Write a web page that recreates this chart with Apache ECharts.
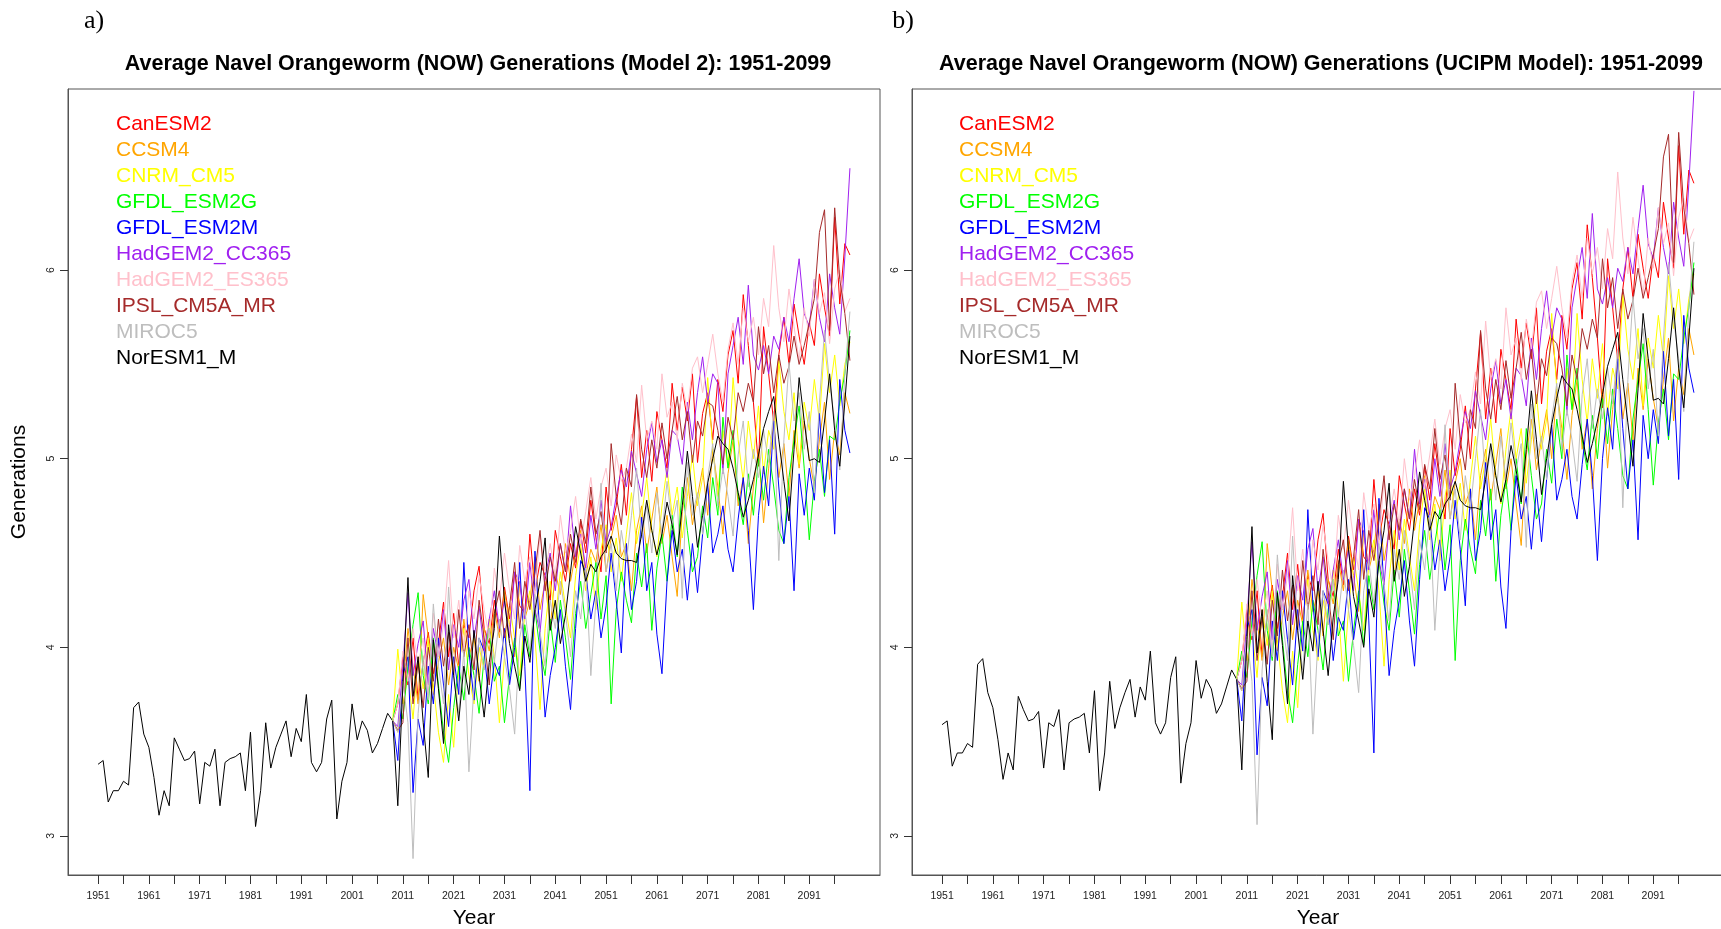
<!DOCTYPE html>
<html><head><meta charset="utf-8">
<script src="https://cdn.jsdelivr.net/npm/echarts@6/dist/echarts.min.js"></script>
<style>html,body{margin:0;padding:0;background:#fff}#c{width:1721px;height:929px}</style>
</head><body><div id="c"></div>
<script>
const modelNames = ['CanESM2','CCSM4','CNRM_CM5','GFDL_ESM2G','GFDL_ESM2M','HadGEM2_CC365','HadGEM2_ES365','IPSL_CM5A_MR','MIROC5','NorESM1_M'];
const modelColors = ['#FF0000','#FFA500','#FFFF00','#00FF00','#0000FF','#A020F0','#FFC0CB','#A52A2A','#BEBEBE','#000000'];
const histStartYear = 1951;
const projStartYear = 2010;
const xTickYears = [1951,1956,1961,1966,1971,1976,1981,1986,1991,1996,2001,2006,2011,2016,2021,2026,2031,2036,2041,2046,2051,2056,2061,2066,2071,2076,2081,2086,2091,2096];
const xLabelYears = [1951,1961,1971,1981,1991,2001,2011,2021,2031,2041,2051,2061,2071,2081,2091];
const yTicks = [3,4,5,6];

// Panel a (Model 2) historical 1951-2009
const histA = [3.38,3.40,3.18,3.24,3.24,3.29,3.27,3.68,3.71,3.54,
3.47,3.31,3.11,3.24,3.16,3.52,3.46,3.40,3.41,3.45,
3.17,3.39,3.37,3.46,3.16,3.39,3.41,3.42,3.44,3.24,
3.55,3.05,3.24,3.60,3.36,3.47,3.54,3.61,3.42,3.57,
3.50,3.75,3.39,3.34,3.39,3.62,3.72,3.09,3.29,3.39,
3.70,3.51,3.61,3.56,3.44,3.49,3.57,3.65,3.61];
// Panel b (UCIPM) historical 1951-2009
const histB = [3.59,3.61,3.37,3.44,3.44,3.49,3.47,3.91,3.94,3.76,
3.68,3.51,3.30,3.44,3.35,3.74,3.67,3.61,3.62,3.66,
3.36,3.60,3.58,3.67,3.35,3.60,3.62,3.63,3.65,3.44,
3.77,3.24,3.44,3.82,3.57,3.68,3.76,3.83,3.63,3.79,
3.72,3.98,3.60,3.54,3.60,3.84,3.95,3.28,3.49,3.60,
3.93,3.73,3.83,3.78,3.65,3.70,3.79,3.88,3.83];

// Panel a projections 2010-2099
const A_CanESM2 = [3.70,3.95,3.80,4.05,3.72,3.92,4.08,3.86,4.02,4.24,
3.95,4.18,3.90,4.12,4.05,4.30,4.43,4.10,4.02,4.25,
4.08,4.32,4.15,4.40,4.22,4.18,4.60,4.30,4.45,4.38,
4.25,4.62,4.48,4.35,4.55,4.42,4.67,4.50,4.78,4.58,
4.40,4.85,4.62,4.75,4.97,4.70,5.05,5.33,4.90,5.15,
4.88,5.25,5.10,4.95,5.40,5.15,5.38,5.20,5.45,4.98,
5.24,5.35,5.10,5.42,5.25,5.55,5.68,5.40,5.87,5.60,
5.30,4.96,5.70,5.45,5.19,5.55,5.75,5.50,5.82,5.65,
5.50,5.72,5.60,5.98,5.80,5.65,6.28,5.82,6.14,6.08];
const A_CCSM4 = [3.55,3.78,4.10,3.90,3.70,4.28,4.05,3.75,3.92,4.05,
3.80,4.00,3.88,4.15,3.95,4.05,3.82,4.10,3.98,4.20,
4.05,4.30,4.12,3.95,4.35,4.15,4.25,4.48,4.20,4.35,
4.10,4.40,4.28,4.55,4.35,4.50,4.62,4.38,4.52,4.45,
4.65,4.40,4.58,4.70,4.48,4.55,4.30,4.62,4.75,4.50,
4.68,4.85,4.55,4.70,4.48,4.27,4.72,4.90,4.65,4.80,
4.95,4.70,5.05,4.85,4.60,4.92,5.10,4.75,4.90,4.55,
4.85,5.05,4.66,4.95,5.20,4.90,5.08,4.80,5.15,4.95,
5.20,5.00,4.85,5.10,5.30,4.89,5.15,5.02,5.35,5.24];
const A_CNRM_CM5 = [3.99,3.70,3.85,3.62,3.95,3.78,4.05,3.80,3.55,3.39,
3.75,3.47,3.90,4.10,3.85,3.70,4.00,3.88,4.15,3.95,
3.60,3.95,4.22,4.05,3.85,4.18,4.30,4.05,3.67,4.10,
4.35,4.15,4.40,4.22,4.05,4.38,4.55,4.30,4.48,4.20,
4.52,4.65,4.40,4.58,4.35,4.60,4.82,4.55,4.70,4.90,
4.62,4.48,4.75,4.95,4.70,4.85,4.58,4.80,5.02,4.75,
4.90,5.43,5.05,4.80,5.15,4.95,5.43,5.10,4.88,5.20,
5.00,5.28,4.92,5.15,5.05,5.52,5.25,5.10,5.35,4.97,
5.30,5.15,5.42,5.20,5.61,5.35,5.55,5.28,5.50,5.62];
const A_GFDL_ESM2G = [3.75,3.62,3.90,4.12,4.29,3.85,3.70,4.05,3.80,3.55,
3.39,3.68,3.90,3.72,4.00,3.85,3.65,3.95,4.10,3.82,
3.90,3.60,3.85,4.05,3.78,4.12,3.95,4.20,3.98,3.85,
4.15,3.92,4.25,4.05,3.83,4.18,4.35,4.10,4.28,4.45,
4.15,4.38,3.70,4.20,4.40,4.25,4.13,4.50,4.32,4.55,
4.09,4.42,4.60,4.35,4.70,4.48,4.85,4.62,4.40,4.48,
4.75,4.58,4.90,4.70,5.22,4.95,5.15,4.80,4.65,4.92,
4.70,5.00,4.78,5.05,4.85,4.62,4.55,4.90,5.10,5.28,
4.95,4.57,4.88,5.05,4.80,5.12,5.10,5.30,5.45,5.68];
const A_GFDL_ESM2M = [3.40,3.85,3.95,3.23,3.62,3.48,3.90,3.70,4.05,3.80,
3.58,3.95,3.75,4.45,3.98,3.72,4.05,3.98,3.70,3.92,
3.85,4.10,3.80,4.00,4.45,3.90,3.24,4.51,4.05,3.63,
3.85,4.00,4.20,3.90,3.67,4.10,4.46,4.40,4.15,4.30,
4.05,4.22,4.50,4.25,3.97,4.55,4.20,4.35,4.69,4.30,
4.45,4.07,3.86,4.35,4.62,4.40,4.52,4.25,4.55,4.29,
4.60,4.87,4.50,4.60,4.75,4.52,4.40,4.68,4.90,4.62,
4.20,4.70,4.96,4.75,5.20,4.85,4.55,4.80,4.30,4.92,
4.70,4.95,4.78,5.24,4.82,5.10,4.60,5.42,5.15,5.03];
const A_HadGEM2_CC365 = [3.58,3.90,4.29,3.85,4.02,4.14,3.80,4.10,3.95,4.20,
3.88,4.12,4.00,4.25,4.36,4.05,4.22,3.98,4.15,4.30,
4.10,4.25,4.05,4.40,4.34,4.15,4.45,4.20,4.08,4.38,
4.50,4.30,4.55,4.40,4.75,4.48,4.60,4.42,4.70,4.52,
4.78,4.55,4.64,4.80,4.94,4.85,5.04,4.92,4.80,5.05,
5.19,4.98,5.10,4.90,5.15,5.12,4.97,5.30,5.10,5.35,
5.54,5.30,5.45,5.40,4.92,5.45,5.60,5.75,5.50,5.92,
5.55,5.47,5.60,5.45,5.65,5.58,5.75,5.62,5.85,6.06,
5.77,5.70,5.95,5.75,5.62,5.98,5.80,5.66,6.07,6.54];
const A_HadGEM2_ES365 = [3.70,3.98,3.82,4.10,3.90,4.05,3.75,4.18,3.95,4.12,
4.46,4.05,4.25,4.00,4.30,4.15,4.38,4.20,4.05,4.42,
4.25,4.50,4.30,4.15,4.54,4.35,4.48,4.28,4.60,4.40,
4.55,4.38,4.70,4.50,4.62,4.80,4.55,4.72,4.90,4.68,
4.85,4.95,4.75,5.02,4.88,4.95,5.13,4.98,5.39,5.10,
5.20,5.05,5.45,5.22,5.30,5.10,5.40,5.25,5.48,5.54,
5.35,5.50,5.66,5.45,5.30,5.58,5.72,5.50,5.80,5.62,
5.75,5.55,5.85,5.70,6.13,5.80,5.62,5.90,5.70,5.52,
5.80,5.65,5.95,5.77,5.88,5.61,5.90,6.00,5.78,5.85];
const A_IPSL_CM5A_MR = [3.56,3.60,4.05,3.70,3.92,3.68,4.00,3.82,4.15,3.90,
4.08,3.85,4.20,3.95,4.12,3.88,4.25,4.05,3.80,4.18,
4.30,4.05,4.22,4.45,4.10,4.35,4.20,4.40,4.62,4.30,
4.48,4.35,4.55,4.40,4.60,4.45,4.68,4.55,4.85,4.60,
4.72,4.50,5.08,4.80,4.65,4.95,4.85,5.34,5.05,4.90,
5.10,4.95,5.19,5.00,5.15,5.33,5.10,5.25,4.98,5.20,
5.12,5.30,5.28,5.15,4.97,5.22,5.10,5.35,5.25,5.40,
5.30,5.70,5.45,5.60,5.35,5.55,5.40,5.49,5.65,5.50,
5.60,5.72,5.85,6.20,6.32,5.68,6.33,5.95,5.77,5.52];
const A_MIROC5 = [3.55,3.82,3.60,2.88,3.65,3.95,3.72,4.23,3.90,3.70,
4.32,3.85,3.65,3.98,3.34,3.80,4.05,3.88,4.10,3.92,
4.15,3.95,3.78,3.54,4.05,4.20,3.98,4.28,4.08,3.90,
4.25,4.10,4.35,4.18,3.95,4.30,4.15,4.42,3.85,4.25,
4.87,4.40,4.55,4.30,4.62,4.45,4.70,4.95,4.58,4.75,
4.50,4.82,4.60,4.88,4.65,4.78,4.26,4.98,4.70,4.82,
4.60,4.90,5.08,4.75,4.95,4.80,4.59,5.02,5.20,4.85,
5.05,4.90,5.15,4.98,5.25,4.46,5.10,5.51,5.20,5.35,
5.05,5.25,4.82,5.30,5.68,5.40,5.20,4.94,5.45,5.78];
const A_NorESM1_M = [3.16,3.80,4.37,3.74,3.95,3.60,3.31,4.04,3.78,3.49,
4.12,3.85,3.61,3.90,3.75,4.09,3.85,3.63,3.92,4.10,
4.59,4.25,4.02,3.90,3.77,4.06,3.92,4.20,4.35,4.58,
4.09,4.25,4.02,4.17,4.40,4.64,4.50,4.35,4.44,4.40,
4.48,4.52,4.59,4.50,4.47,4.46,4.46,4.45,4.60,4.78,
4.62,4.49,4.60,4.77,4.65,4.49,4.75,5.04,4.80,4.53,
4.70,4.87,5.00,5.12,5.08,5.05,4.95,4.82,4.69,4.78,
4.89,5.02,5.16,5.25,5.33,5.10,4.88,4.67,5.05,5.43,
5.20,4.99,5.00,4.98,5.20,5.45,5.15,4.96,5.30,5.65];

// Panel b projections 2010-2099
const B_CanESM2 = [3.93,4.20,4.04,4.30,3.95,4.16,4.33,4.10,4.27,4.50,
4.20,4.44,4.14,4.38,4.30,4.57,4.71,4.36,4.27,4.52,
4.33,4.59,4.41,4.68,4.48,4.44,4.89,4.57,4.73,4.65,
4.52,4.91,4.76,4.62,4.84,4.70,4.96,4.78,5.08,4.87,
4.68,5.16,4.91,5.05,5.28,5.00,5.37,5.67,5.21,5.48,
5.19,5.58,5.42,5.26,5.74,5.48,5.72,5.53,5.80,5.29,
5.57,5.69,5.42,5.76,5.58,5.90,6.04,5.74,6.24,5.96,
5.64,5.27,6.06,5.80,5.52,5.90,6.12,5.85,6.19,6.01,
5.85,6.08,5.96,6.36,6.17,6.01,6.66,6.19,6.53,6.46];
const B_CCSM4 = [3.77,4.01,4.36,4.14,3.93,4.55,4.30,3.98,4.16,4.30,
4.04,4.25,4.12,4.41,4.19,4.30,4.06,4.36,4.23,4.46,
4.30,4.57,4.38,4.19,4.62,4.41,4.52,4.76,4.46,4.62,
4.36,4.68,4.55,4.84,4.62,4.78,4.91,4.65,4.80,4.73,
4.94,4.68,4.87,5.00,4.76,4.84,4.57,4.91,5.05,4.78,
4.97,5.16,4.84,5.00,4.76,4.54,5.02,5.21,4.94,5.10,
5.26,5.00,5.37,5.16,4.89,5.23,5.42,5.05,5.21,4.84,
5.16,5.37,4.95,5.26,5.53,5.21,5.40,5.10,5.48,5.26,
5.53,5.32,5.16,5.42,5.64,5.20,5.48,5.34,5.69,5.55];
const B_CNRM_CM5 = [4.24,3.93,4.09,3.84,4.20,4.01,4.30,4.04,3.77,3.60,
3.98,3.68,4.14,4.36,4.09,3.93,4.25,4.12,4.41,4.20,
3.82,4.20,4.48,4.30,4.09,4.44,4.57,4.30,3.90,4.36,
4.62,4.41,4.68,4.48,4.30,4.65,4.84,4.57,4.76,4.46,
4.80,4.94,4.68,4.87,4.62,4.89,5.12,4.84,5.00,5.21,
4.91,4.76,5.05,5.26,5.00,5.16,4.87,5.10,5.34,5.05,
5.21,5.77,5.37,5.10,5.48,5.26,5.77,5.42,5.19,5.53,
5.32,5.61,5.23,5.48,5.37,5.87,5.58,5.42,5.69,5.28,
5.64,5.48,5.76,5.53,5.97,5.69,5.90,5.61,5.85,5.98];
const B_GFDL_ESM2G = [3.98,3.84,4.14,4.38,4.56,4.09,3.93,4.30,4.04,3.77,
3.60,3.91,4.14,3.95,4.25,4.09,3.88,4.20,4.36,4.06,
4.14,3.82,4.09,4.30,4.01,4.38,4.20,4.46,4.23,4.09,
4.41,4.16,4.52,4.30,4.07,4.44,4.62,4.36,4.55,4.73,
4.41,4.65,3.93,4.46,4.68,4.52,4.39,4.78,4.59,4.84,
4.35,4.70,4.89,4.62,5.00,4.76,5.16,4.91,4.68,4.76,
5.05,4.87,5.21,5.00,5.55,5.26,5.48,5.10,4.94,5.23,
5.00,5.32,5.08,5.37,5.16,4.91,4.84,5.21,5.42,5.61,
5.26,4.86,5.19,5.37,5.10,5.45,5.42,5.64,5.80,6.04];
const B_GFDL_ESM2M = [3.61,4.09,4.20,3.43,3.84,3.69,4.14,3.93,4.30,4.04,
3.80,4.20,3.98,4.73,4.23,3.95,4.30,4.23,3.93,4.16,
4.09,4.36,4.04,4.25,4.73,4.14,3.44,4.79,4.30,3.85,
4.09,4.25,4.46,4.14,3.90,4.36,4.74,4.68,4.41,4.57,
4.30,4.48,4.78,4.52,4.22,4.84,4.46,4.62,4.98,4.57,
4.73,4.32,4.10,4.62,4.91,4.68,4.80,4.52,4.84,4.56,
4.89,5.18,4.78,4.89,5.05,4.80,4.68,4.97,5.21,4.91,
4.46,5.00,5.27,5.05,5.53,5.16,4.84,5.10,4.57,5.23,
5.00,5.26,5.08,5.57,5.12,5.42,4.89,5.76,5.48,5.35];
const B_HadGEM2_CC365 = [3.80,4.14,4.56,4.09,4.27,4.40,4.04,4.36,4.20,4.46,
4.12,4.38,4.25,4.52,4.63,4.30,4.48,4.23,4.41,4.57,
4.36,4.52,4.30,4.68,4.61,4.41,4.73,4.46,4.33,4.65,
4.78,4.57,4.84,4.68,5.05,4.76,4.89,4.70,5.00,4.80,
5.08,4.84,4.93,5.10,5.25,5.16,5.36,5.23,5.10,5.37,
5.52,5.29,5.42,5.21,5.48,5.44,5.28,5.64,5.42,5.69,
5.89,5.64,5.80,5.74,5.23,5.80,5.96,6.12,5.85,6.30,
5.90,5.82,5.96,5.80,6.01,5.94,6.12,5.98,6.22,6.45,
6.14,6.06,6.33,6.12,5.98,6.36,6.17,6.02,6.46,6.95];
const B_HadGEM2_ES365 = [3.93,4.23,4.06,4.36,4.14,4.30,3.98,4.44,4.20,4.38,
4.74,4.30,4.52,4.25,4.57,4.41,4.65,4.46,4.30,4.70,
4.52,4.78,4.57,4.41,4.82,4.62,4.76,4.55,4.89,4.68,
4.84,4.65,5.00,4.78,4.91,5.10,4.84,5.02,5.21,4.97,
5.16,5.26,5.05,5.34,5.19,5.26,5.46,5.29,5.73,5.42,
5.53,5.37,5.80,5.55,5.64,5.42,5.74,5.58,5.83,5.89,
5.69,5.85,6.02,5.80,5.64,5.94,6.08,5.85,6.17,5.98,
6.12,5.90,6.22,6.06,6.52,6.17,5.98,6.28,6.06,5.87,
6.17,6.01,6.33,6.14,6.25,5.97,6.28,6.38,6.15,6.22];
const B_IPSL_CM5A_MR = [3.78,3.82,4.30,3.93,4.16,3.91,4.25,4.06,4.41,4.14,
4.33,4.09,4.46,4.20,4.38,4.12,4.52,4.30,4.04,4.44,
4.57,4.30,4.48,4.73,4.36,4.62,4.46,4.68,4.91,4.57,
4.76,4.62,4.84,4.68,4.89,4.73,4.97,4.84,5.16,4.89,
5.02,4.78,5.40,5.10,4.94,5.26,5.16,5.68,5.37,5.21,
5.42,5.26,5.52,5.32,5.48,5.67,5.42,5.58,5.29,5.53,
5.44,5.64,5.61,5.48,5.28,5.55,5.42,5.69,5.58,5.74,
5.64,6.06,5.80,5.96,5.69,5.90,5.74,5.84,6.01,5.85,
5.96,6.08,6.22,6.60,6.72,6.04,6.73,6.33,6.14,5.87];
const B_MIROC5 = [3.77,4.06,3.82,3.06,3.88,4.20,3.95,4.49,4.14,3.93,
4.59,4.09,3.88,4.23,3.54,4.04,4.30,4.12,4.36,4.16,
4.41,4.20,4.01,3.76,4.30,4.46,4.23,4.55,4.33,4.14,
4.52,4.36,4.62,4.44,4.20,4.57,4.41,4.70,4.09,4.52,
5.18,4.68,4.84,4.57,4.91,4.73,5.00,5.26,4.87,5.05,
4.78,5.12,4.89,5.19,4.94,5.08,4.53,5.29,5.00,5.12,
4.89,5.21,5.40,5.05,5.26,5.10,4.88,5.34,5.53,5.16,
5.37,5.21,5.48,5.29,5.58,4.74,5.42,5.86,5.53,5.69,
5.37,5.58,5.12,5.64,6.04,5.74,5.53,5.25,5.80,6.15];
const B_NorESM1_M = [3.35,4.04,4.64,3.97,4.20,3.82,3.51,4.29,4.01,3.70,
4.38,4.09,3.83,4.14,3.98,4.35,4.09,3.85,4.16,4.36,
4.88,4.52,4.27,4.14,4.00,4.31,4.16,4.46,4.62,4.87,
4.35,4.52,4.27,4.43,4.68,4.93,4.78,4.62,4.72,4.68,
4.76,4.80,4.88,4.78,4.75,4.74,4.74,4.73,4.89,5.08,
4.91,4.77,4.89,5.07,4.94,4.77,5.05,5.36,5.10,4.81,
5.00,5.18,5.32,5.44,5.40,5.37,5.26,5.12,4.98,5.08,
5.20,5.34,5.49,5.58,5.67,5.42,5.19,4.96,5.37,5.77,
5.53,5.31,5.32,5.29,5.53,5.80,5.48,5.27,5.64,6.01];

const panelAModels = [A_CanESM2,A_CCSM4,A_CNRM_CM5,A_GFDL_ESM2G,A_GFDL_ESM2M,A_HadGEM2_CC365,A_HadGEM2_ES365,A_IPSL_CM5A_MR,A_MIROC5,A_NorESM1_M];
const panelBModels = [B_CanESM2,B_CCSM4,B_CNRM_CM5,B_GFDL_ESM2G,B_GFDL_ESM2M,B_HadGEM2_CC365,B_HadGEM2_ES365,B_IPSL_CM5A_MR,B_MIROC5,B_NorESM1_M];

const FONT = 'Liberation Sans, Arial, sans-serif';

function buildSeries(hist, models, gi) {
  const out = [];
  out.push({type:'line', name:'Historical', xAxisIndex:gi, yAxisIndex:gi,
    data: hist.map((v,i)=>[histStartYear+i, v]), symbol:'none', silent:true,
    lineStyle:{color:'#000', width:1}, itemStyle:{color:'#000'}});
  const lastYear = histStartYear + hist.length - 1;
  const lastVal = hist[hist.length-1];
  models.forEach((arr,k)=>{
    const d = [[lastYear, lastVal]].concat(arr.map((v,i)=>[projStartYear+i, v]));
    out.push({type:'line', name:modelNames[k], xAxisIndex:gi, yAxisIndex:gi, data:d,
      symbol:'none', lineStyle:{color:modelColors[k], width:1}, itemStyle:{color:modelColors[k]}});
  });
  return out;
}

function xAxis(gi){
  return {type:'value', gridIndex:gi, min:1945.08, max:2104.92,
    name:'Year', nameLocation:'middle', nameGap:33,
    nameTextStyle:{fontSize:21, color:'#000', fontFamily:FONT},
    axisLine:{show:true, onZero:false, lineStyle:{color:'#555', width:1}},
    axisTick:{show:true, length:9, customValues:xTickYears, lineStyle:{color:'#333', width:1}},
    axisLabel:{customValues:xLabelYears, formatter:(v)=>String(v), fontSize:10.5, color:'#222', margin:16, fontFamily:FONT},
    splitLine:{show:false}};
}
function yAxis(gi){
  return {type:'value', gridIndex:gi, min:2.793, max:6.96,
    name: gi===0 ? 'Generations' : '', nameLocation:'middle', nameGap:38, nameRotate:90,
    nameTextStyle:{fontSize:21, color:'#000', fontFamily:FONT},
    axisLine:{show:true, onZero:false, lineStyle:{color:'#555', width:1}},
    axisTick:{show:true, length:8, customValues:yTicks, lineStyle:{color:'#333', width:1}},
    axisLabel:{customValues:yTicks, formatter:(v)=>String(v), rotate:90, fontSize:10.5, color:'#222', margin:11, fontFamily:FONT},
    splitLine:{show:false}};
}
function legend(left){
  return {left:left, top:111, orient:'vertical', itemGap:0, itemWidth:0, itemHeight:0, padding:0,
    selectedMode:false, icon:'rect',
    textStyle:{fontSize:21, fontFamily:FONT, lineHeight:26},
    data: modelNames.map((n,k)=>({name:n, textStyle:{color:modelColors[k]}, itemStyle:{opacity:0}}))};
}

const chart = echarts.init(document.getElementById('c'));
chart.setOption({
  animation:false,
  backgroundColor:'#fff',
  title:[
    {text:'a)', left:89, top:16, textAlign:'center', textVerticalAlign:'middle',
      textStyle:{fontFamily:'Liberation Serif, Times New Roman, serif', fontSize:26, fontWeight:'normal', color:'#000'}},
    {text:'b)', left:898, top:16, textAlign:'center', textVerticalAlign:'middle',
      textStyle:{fontFamily:'Liberation Serif, Times New Roman, serif', fontSize:26, fontWeight:'normal', color:'#000'}},
    {text:'Average Navel Orangeworm (NOW) Generations (Model 2): 1951-2099', left:473, top:59, textAlign:'center', textVerticalAlign:'middle',
      textStyle:{fontFamily:FONT, fontSize:21.5, fontWeight:'bold', color:'#000'}},
    {text:'Average Navel Orangeworm (NOW) Generations (UCIPM Model): 1951-2099', left:1316, top:59, textAlign:'center', textVerticalAlign:'middle',
      textStyle:{fontFamily:FONT, fontSize:21.5, fontWeight:'bold', color:'#000'}}
  ],
  legend:[legend(111), legend(954)],
  grid:[
    {left:68, top:89, width:812, height:786, outerBoundsMode:'none', show:true, borderColor:'#555', borderWidth:1, backgroundColor:'transparent'},
    {left:912, top:89, width:812, height:786, outerBoundsMode:'none', show:true, borderColor:'#555', borderWidth:1, backgroundColor:'transparent'}
  ],
  xAxis:[xAxis(0), xAxis(1)],
  yAxis:[yAxis(0), yAxis(1)],
  series: buildSeries(histA, panelAModels, 0).concat(buildSeries(histB, panelBModels, 1))
});
</script></body></html>
